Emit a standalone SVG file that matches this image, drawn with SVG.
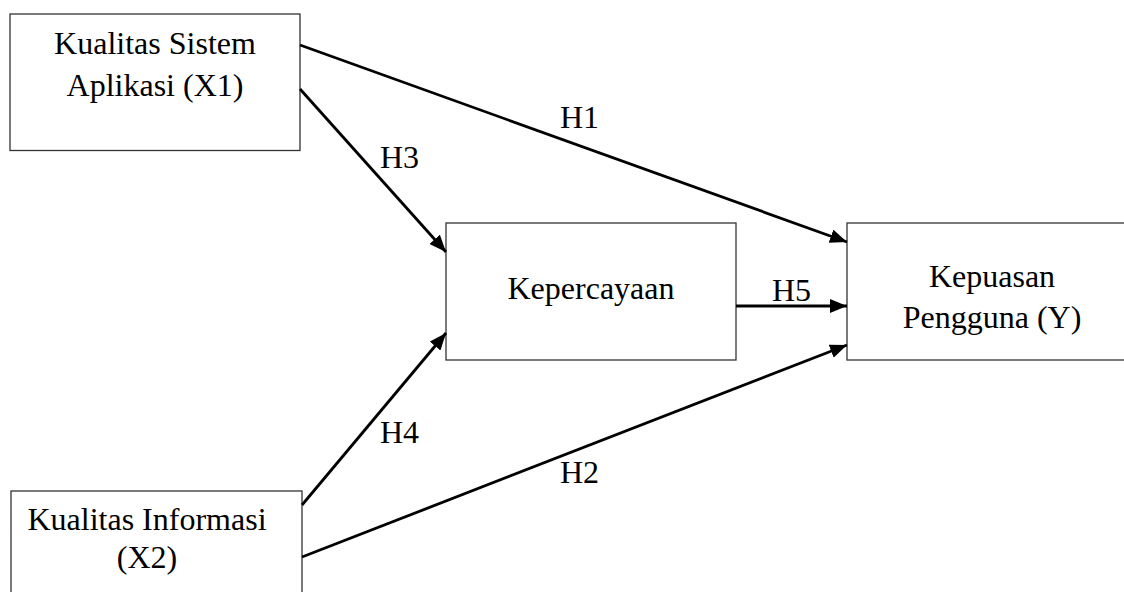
<svg xmlns="http://www.w3.org/2000/svg" width="1124" height="592" viewBox="0 0 1124 592">
  <style>
    .box { fill: #ffffff; stroke: #333333; stroke-width: 1.3; }
    .lbl { font-family: "Liberation Serif", "Times New Roman", serif; font-size: 32px; fill: #000000; }
    .mid { text-anchor: middle; }
    .edge { stroke: #000000; stroke-width: 2.8; fill: none; marker-end: url(#arrow); }
  </style>
  <defs>
    <marker id="arrow" markerUnits="userSpaceOnUse" markerWidth="17" markerHeight="14" refX="17" refY="7" orient="auto" viewBox="0 0 17 14">
      <path d="M0,0 L17,7 L0,14 z" fill="#000000"/>
    </marker>
  </defs>
  <rect width="1124" height="592" fill="#ffffff"/>

  <g id="node-x1">
    <rect class="box" x="10" y="14" width="290" height="136.5"/>
    <text class="lbl mid" x="155" y="54">Kualitas Sistem</text>
    <text class="lbl mid" x="155" y="96">Aplikasi (X1)</text>
  </g>

  <g id="node-kepercayaan">
    <rect class="box" x="446" y="223" width="290" height="137"/>
    <text class="lbl mid" x="591" y="299">Kepercayaan</text>
  </g>

  <g id="node-y">
    <rect class="box" x="847" y="223" width="290" height="137"/>
    <text class="lbl mid" x="992" y="287">Kepuasan</text>
    <text class="lbl mid" x="992" y="328">Pengguna (Y)</text>
  </g>

  <g id="node-x2">
    <rect class="box" x="11" y="491" width="291" height="120"/>
    <text class="lbl mid" x="147" y="530">Kualitas Informasi</text>
    <text class="lbl mid" x="147" y="568">(X2)</text>
  </g>

  <g id="connectors">
    <line class="edge" x1="300" y1="45" x2="847" y2="242"/>
    <line class="edge" x1="300" y1="89" x2="446" y2="252"/>
    <line class="edge" x1="302" y1="505" x2="446" y2="333"/>
    <line class="edge" x1="302" y1="557" x2="847" y2="345"/>
    <line class="edge" x1="736" y1="306" x2="847" y2="306"/>
    <text class="lbl" x="560" y="128">H1</text>
    <text class="lbl" x="380" y="168">H3</text>
    <text class="lbl" x="380" y="443">H4</text>
    <text class="lbl" x="560" y="483">H2</text>
    <text class="lbl" x="772" y="301">H5</text>
  </g>
</svg>
